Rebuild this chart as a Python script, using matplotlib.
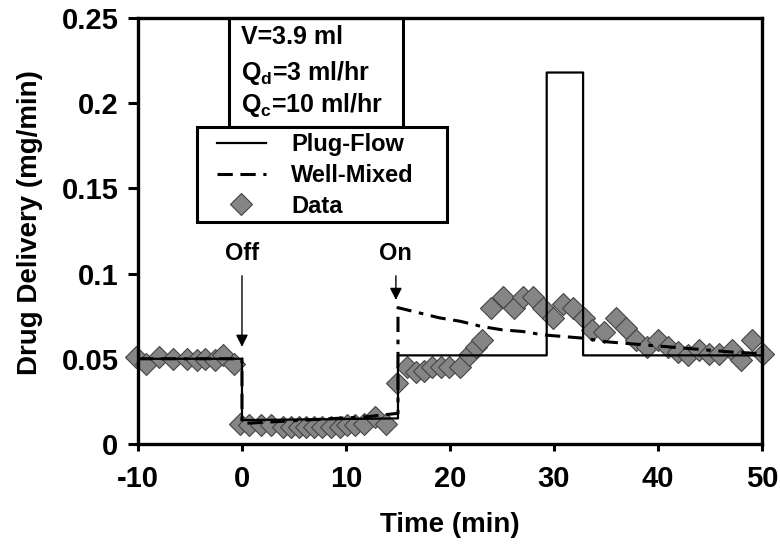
import matplotlib
matplotlib.use("Agg")
import matplotlib.pyplot as plt
from matplotlib.patches import Rectangle

plt.rcParams['font.family'] = ['Liberation Sans', 'DejaVu Sans']
plt.rcParams['font.weight'] = 'bold'
plt.rcParams['axes.labelweight'] = 'bold'
plt.rcParams['axes.unicode_minus'] = False
plt.rcParams['mathtext.fontset'] = 'custom'
plt.rcParams['mathtext.rm'] = 'Liberation Sans:bold'
plt.rcParams['mathtext.it'] = 'Liberation Sans:bold'
plt.rcParams['mathtext.bf'] = 'Liberation Sans:bold'

# measured data (time in min, delivery in mg/min)
data_t = [-10.2, -9.2, -8.0, -6.6, -5.3, -4.3, -3.6, -2.6, -1.8, -0.8,
          -0.2, 0.7, 1.8, 2.8, 3.9, 4.7, 5.5, 6.2, 6.9, 7.7, 8.6, 9.4, 10.1, 10.9, 11.7, 12.8, 13.8,
          14.9, 15.9, 16.7, 17.5, 18.3, 19.1, 19.9, 21.0, 21.8, 22.5, 23.1,
          23.9, 25.1, 26.2, 27.0, 28.0, 28.9, 29.9, 30.9, 31.8, 32.9, 33.7, 34.8,
          36.0, 36.9, 37.9, 38.9, 40.0, 41.0, 41.9, 42.9, 43.9, 44.9, 45.9, 47.1,
          48.0, 49.0, 50.1]
data_v = [0.051, 0.047, 0.051, 0.050, 0.050, 0.049, 0.050, 0.049, 0.052, 0.047,
          0.012, 0.011, 0.011, 0.011, 0.010, 0.010, 0.010, 0.010, 0.010, 0.010, 0.010, 0.010, 0.011, 0.011, 0.012, 0.016, 0.012,
          0.036, 0.045, 0.042, 0.043, 0.045, 0.045, 0.045, 0.045, 0.052, 0.057, 0.061,
          0.080, 0.086, 0.080, 0.086, 0.086, 0.080, 0.074, 0.082, 0.080, 0.074, 0.067, 0.066,
          0.074, 0.068, 0.061, 0.057, 0.061, 0.057, 0.054, 0.052, 0.055, 0.053, 0.053, 0.055,
          0.049, 0.061, 0.053]

# plug-flow model
plug_t = [-10, 0, 0, 15, 15, 29.3, 29.3, 32.8, 32.8, 50]
plug_v = [0.050, 0.050, 0.014, 0.015, 0.052, 0.052, 0.218, 0.218, 0.052, 0.052]

# well-mixed model
mixed_t = [-10, 0, 0, 3, 6, 9, 12, 15, 15, 17, 19, 21, 23, 25, 27, 29, 31, 33,
           35, 37, 39, 41, 43, 45, 47, 50]
mixed_v = [0.050, 0.050, 0.012, 0.013, 0.014, 0.015, 0.016, 0.018, 0.080, 0.077,
           0.074, 0.072, 0.069, 0.067, 0.066, 0.064, 0.063, 0.062, 0.060, 0.059,
           0.058, 0.057, 0.056, 0.055, 0.054, 0.053]

yticks = [0, 0.05, 0.1, 0.15, 0.2, 0.25]
ytick_labels = ['0', '0.05', '0.1', '0.15', '0.2', '0.25']
xticks = [-10, 0, 10, 20, 30, 40, 50]

fig = plt.figure(figsize=(7.8, 5.52), dpi=100)
ax = fig.add_axes([0.1769, 0.1957, 0.8, 0.7717])

h_data, = ax.plot(data_t, data_v, linestyle='none', marker='D', markersize=11,
                  markerfacecolor='#858585', markeredgecolor='#444444', markeredgewidth=0.8,
                  clip_on=False, zorder=2)
h_plug, = ax.plot(plug_t, plug_v, color='black', linewidth=1.6, zorder=3)
h_mixed, = ax.plot(mixed_t, mixed_v, color='black', linewidth=2.2, zorder=3,
                   dashes=[5, 2.5, 5, 2.5, 1.5, 2.5])

ax.set_xlim(-10, 50)
ax.set_ylim(0, 0.25)
ax.set_xticks(xticks)
ax.set_yticks(yticks)
ax.set_yticklabels(ytick_labels)
ax.tick_params(axis='both', labelsize=21, width=2.2, direction='out')
ax.tick_params(axis='y', length=7, pad=7)
ax.tick_params(axis='x', length=5, pad=10)
for s in ax.spines.values():
    s.set_linewidth(2.4)

ax.set_xlabel('Time (min)', fontsize=20, labelpad=14)
ax.set_ylabel('Drug Delivery (mg/min)', fontsize=20)
ax.yaxis.set_label_coords(-0.153, 0.52)

# parameter box
ax.add_patch(Rectangle((0.146, 0.744), 0.279, 0.256, transform=ax.transAxes,
                       fill=False, edgecolor='black', linewidth=2.2, zorder=4, clip_on=False))
ax.text(0.165, 0.955, 'V=3.9 ml', transform=ax.transAxes, fontsize=18, va='center', zorder=5)
ax.text(0.165, 0.871, r'Q$_\mathrm{d}$=3 ml/hr', transform=ax.transAxes, fontsize=18, va='center', zorder=5)
ax.text(0.165, 0.796, r'Q$_\mathrm{c}$=10 ml/hr', transform=ax.transAxes, fontsize=18, va='center', zorder=5)

# legend: frame drawn separately so the entries can sit where they do in the original
ax.add_patch(Rectangle((0.0946, 0.521), 0.4, 0.223, transform=ax.transAxes,
                       facecolor='white', edgecolor='black', linewidth=2.2, zorder=5))
leg = ax.legend([h_plug, h_mixed, h_data], ['Plug-Flow', 'Well-Mixed', 'Data'],
                loc='upper left', bbox_to_anchor=(0.126, 0.730), borderaxespad=0,
                fontsize=17, frameon=False, handlelength=2.1, handletextpad=1.05,
                labelspacing=0.33, borderpad=0)
leg.set_zorder(6)

ax.annotate('Off', xy=(0, 0.057), xytext=(0, 0.112), ha='center', va='center', fontsize=17,
            arrowprops=dict(arrowstyle='-|>', color='black', lw=1.0, shrinkA=6, shrinkB=0,
                            mutation_scale=18))
ax.annotate('On', xy=(14.8, 0.0845), xytext=(14.8, 0.112), ha='center', va='center', fontsize=17,
            arrowprops=dict(arrowstyle='-|>', color='black', lw=1.0, shrinkA=6, shrinkB=0,
                            mutation_scale=18))

fig.savefig('out.png', dpi=100)
